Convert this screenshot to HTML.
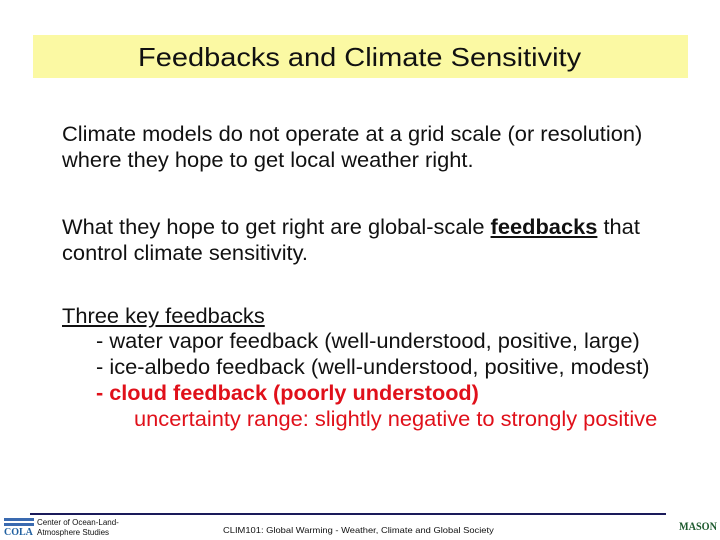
<!DOCTYPE html>
<html><head><meta charset="utf-8"><style>
body{margin:0;width:720px;height:540px;background:#fff;position:relative;overflow:hidden;font-family:"Liberation Sans",sans-serif}
.t{position:absolute;white-space:nowrap;font-size:21px;color:#111;line-height:1;transform:scaleX(1.04);transform-origin:left top}
</style></head><body>
<div style="position:absolute;left:33px;top:35px;width:655px;height:43px;background:#fbf9a3"></div>
<div class="t" style="left:138px;top:44px;font-size:26px;transform:scaleX(1.115)">Feedbacks and Climate Sensitivity</div>
<div class="t" style="left:62px;top:124px">Climate models do not operate at a grid scale (or resolution)</div>
<div class="t" style="left:62px;top:150px">where they hope to get local weather right.</div>
<div class="t" style="left:62px;top:217px">What they hope to get right are global-scale <b style="text-decoration:underline">feedbacks</b> that</div>
<div class="t" style="left:62px;top:243px">control climate sensitivity.</div>
<div class="t" style="left:62px;top:306px;text-decoration:underline">Three key feedbacks</div>
<div class="t" style="left:96px;top:331px">- water vapor feedback (well-understood, positive, large)</div>
<div class="t" style="left:96px;top:357px">- ice-albedo feedback (well-understood, positive, modest)</div>
<div class="t" style="left:96px;top:383px;color:#e0101a;font-weight:bold;transform:scaleX(1.032)">- cloud feedback (poorly understood)</div>
<div class="t" style="left:134px;top:409px;color:#e0101a">uncertainty range: slightly negative to strongly positive</div>
<div style="position:absolute;left:30px;top:513px;width:636px;height:2px;background:#1a1a5a"></div>
<div style="position:absolute;left:4px;top:516px;width:30px;height:22px">
<div style="height:3px;background:#3a6ab0;margin-top:2px"></div><div style="height:3px;background:#3a6ab0;margin-top:2px"></div>
<div style="font:bold 10px 'Liberation Serif',serif;color:#2060a0;margin-top:1px">COLA</div></div>
<div class="t" style="left:37px;top:518px;font-size:8px;line-height:10px;transform:none">Center of Ocean-Land-<br>Atmosphere Studies</div>
<div class="t" style="left:223px;top:526px;font-size:8.5px;transform:scaleX(1.1)">CLIM101: Global Warming - Weather, Climate and Global Society</div>
<div class="t" style="left:679px;top:519px;font:bold 12px 'Liberation Serif',serif;color:#1d5a2e;transform:scaleX(0.85)">MASON</div>
</body></html>
